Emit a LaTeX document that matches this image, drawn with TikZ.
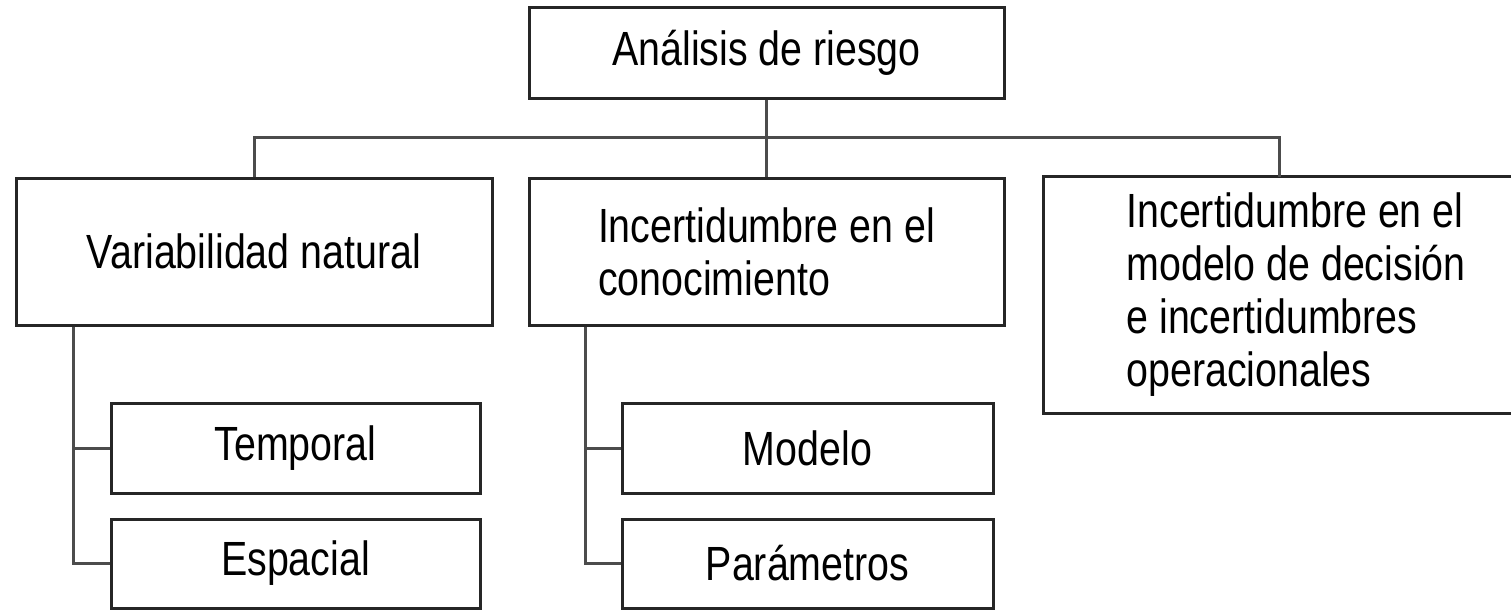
\documentclass[tikz,border=0pt]{standalone}
\usepackage{fontspec}
\setmainfont[FakeStretch=0.82]{Liberation Sans}
\tikzset{
  box/.style={draw=black!85, line width=1.5pt, fill=white, inner sep=0pt, font=\fontsize{24}{26.5}\selectfont},
  rim/.style={draw=black!85, line width=1.5pt},
  link/.style={draw=black!70, line width=1.5pt}
}
\begin{document}
\begin{tikzpicture}[x=0.5pt, y=-0.5pt]

\useasboundingbox (0,0) rectangle (1511,611);

\node[box, minimum width=237.5pt, minimum height=45.5pt] at (766.5,52.5) (risk){Análisis de riesgo};

\node[box, minimum width=238pt, minimum height=73.5pt] at (254,251.5) (natural){Variabilidad natural};
\node[box, align=left, minimum width=237.5pt, minimum height=73.5pt] at (766.5,251.5) (knowledge){Incertidumbre en el\\conocimiento};
% box runs off the right edge: open on that side
\node[box, draw=none, anchor=west, align=flush left, text width=180pt, inner xsep=41pt, minimum height=117pt] at (1043,295) (decision){Incertidumbre en el\\modelo de decisión\\e incertidumbres\\operacionales};
\draw[rim] (1511,0 |- decision.north) -- (decision.north west) -- (decision.south west) -- (1511,0 |- decision.south);

\node[box, minimum width=184.5pt, minimum height=45pt] at (295.5,448) (temporal){Temporal};
\node[box, minimum width=184.5pt, minimum height=44.5pt] at (295.5,563.5) (spatial){Espacial};
\node[box, minimum width=185.5pt, minimum height=45pt] at (807.5,448) (model){Modelo};
\node[box, minimum width=185.5pt, minimum height=44.5pt] at (807.5,563.5) (params){Parámetros};

\coordinate (bus) at (766.5,137);

\draw[link] (risk.south) -- (bus);
\draw[link] (bus) -- (knowledge.north);
\draw[link] (natural.north) |- (bus);
\draw[link] (bus) -| ([xshift=118pt]decision.north west);

\draw[link] ([xshift=29.5pt]natural.south west) |- (temporal.west);
\draw[link] ([xshift=29.5pt]natural.south west) |- (spatial.west);

\draw[link] ([xshift=29pt]knowledge.south west) |- (model.west);
\draw[link] ([xshift=29pt]knowledge.south west) |- (params.west);

\end{tikzpicture}
\end{document}
